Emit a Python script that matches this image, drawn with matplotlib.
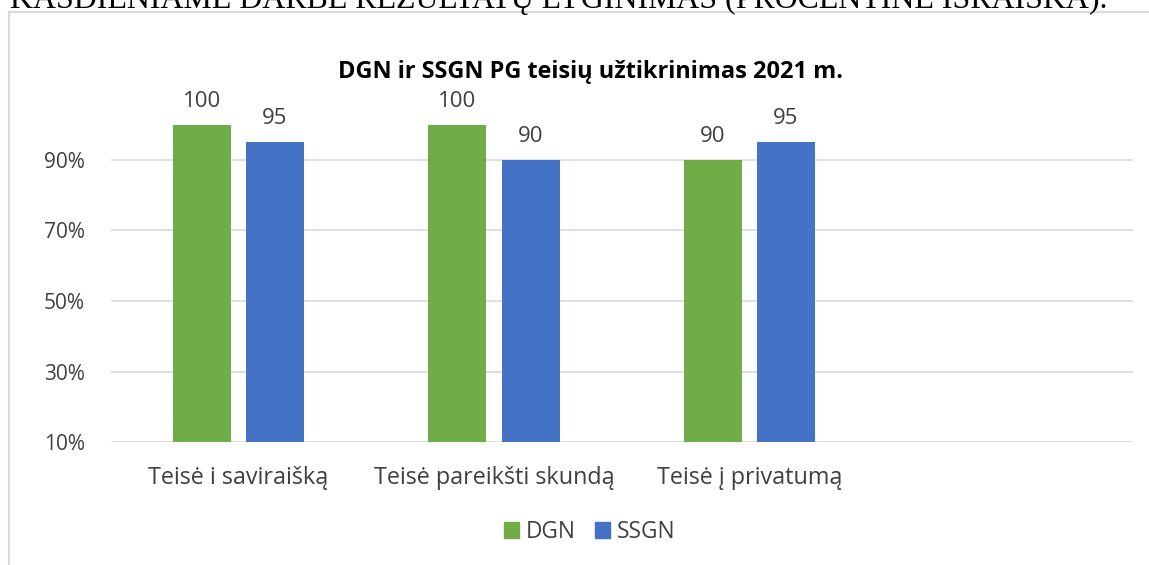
import matplotlib
matplotlib.use("Agg")
import matplotlib.pyplot as plt
from matplotlib.lines import Line2D
import numpy as np

# ---- data ----
categories = ["Teisė i saviraišką", "Teisė pareikšti skundą", "Teisė į privatumą", ""]
series_names = ["DGN", "SSGN"]
dgn_values = [100, 100, 90, None]
ssgn_values = [95, 90, 95, None]
yticks = [10, 30, 50, 70, 90]
title = "DGN ir SSGN PG teisių užtikrinimas 2021 m."
header = "KASDIENIAME DARBE REZULTATŲ LYGINIMAS (PROCENTINĖ IŠRAIŠKA)."

green = "#70AD47"
blue = "#4472C4"
txt = "#404040"
grid_c = "#D9D9D9"
FONT = ["Open Sans", "DejaVu Sans"]

W, H = 1149, 565
fig = plt.figure(figsize=(W / 100, H / 100), dpi=100)
fig.patch.set_facecolor("white")

ax = fig.add_axes([110.75 / W, (H - 442) / H, 1022 / W, (442 - 124.75) / H])

x = np.arange(len(categories))
off = 0.143
bw = 0.227
for vals, col, sgn in [(dgn_values, green, -1), (ssgn_values, blue, 1)]:
    xs = [xi + sgn * off for xi, v in zip(x, vals) if v is not None]
    vs = [v for v in vals if v is not None]
    ax.bar(xs, [v - 10 for v in vs], bottom=10, width=bw, color=col, zorder=3)
    for xi, v in zip(xs, vs):
        ax.annotate(f"{v}", (xi, v), xytext=(0, 13), textcoords="offset points",
                    ha="center", va="baseline", fontsize=16, color=txt,
                    family=FONT, annotation_clip=False)

ax.set_xlim(-0.5, 3.5)
ax.set_ylim(10, 100)
ax.set_yticks(yticks)
ax.set_yticklabels([f"{t}%" for t in yticks], fontsize=15, color=txt, family=FONT)
ax.set_xticks(x)
ax.set_xticklabels(categories, fontsize=16.8, color=txt, family=FONT)
ax.tick_params(axis="y", length=0, pad=18.5)
ax.tick_params(axis="x", length=0, pad=17.5)
ax.grid(axis="y", color=grid_c, lw=1.2, zorder=0)
for s in ax.spines.values():
    s.set_visible(False)

# legend
handles = [plt.Rectangle((0, 0), 1, 1, color=green), plt.Rectangle((0, 0), 1, 1, color=blue)]
fig.legend(handles, series_names, loc="center", bbox_to_anchor=(590 / W, 1 - 532 / H),
           ncol=2, frameon=False, handlelength=0.66, handleheight=0.66, handletextpad=0.31,
           columnspacing=0.84, prop={"family": FONT, "size": 16.3}, labelcolor=txt,
           borderpad=0, borderaxespad=0)

# title
t = fig.text(590 / W, 1 - 72 / H, title, ha="center", va="center", fontsize=15,
             fontweight="bold", color="black", family=FONT)
# header (cut off at top, as in the reference)
h = fig.text(10 / W, 1 - 8 / H, header, ha="left", va="baseline", fontsize=22,
             color="black", family=["Liberation Serif", "DejaVu Serif"])

# frame lines
fig.add_artist(Line2D([9 / W, 1], [1 - 12 / H, 1 - 12 / H], transform=fig.transFigure,
                      color=grid_c, lw=1.6))
fig.add_artist(Line2D([9 / W, 9 / W], [0, 1 - 12 / H], transform=fig.transFigure,
                      color=grid_c, lw=1.6))

# fit widths of title and header
fig.canvas.draw()
r = fig.canvas.get_renderer()
for obj, target in [(t, 505), (h, 1098)]:
    w = obj.get_window_extent(r).width
    obj.set_fontsize(obj.get_fontsize() * target / w)

fig.savefig("out.png", dpi=100)
